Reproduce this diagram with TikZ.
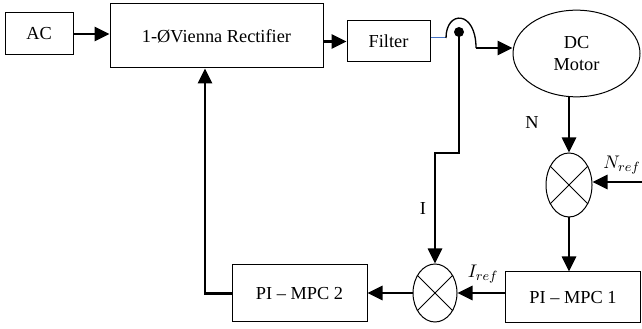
\documentclass[tikz,border=0pt]{standalone}
\usepackage{fontspec}
\setmainfont{Liberation Serif}
\usetikzlibrary{shapes.geometric, arrows.meta, calc}
\definecolor{tapblue}{RGB}{68,114,196}

\begin{document}
\begin{tikzpicture}[
    x=0.6pt, y=-0.6pt,
    >={Triangle[length=9pt,width=8.5pt]},
    font=\fontsize{11}{13}\selectfont,
    block/.style={rectangle, draw=black, line width=0.6pt, inner sep=0pt, align=center},
    summer/.style={ellipse, draw=black, line width=0.6pt, inner sep=0pt},
    signal/.style={->, line width=1.3pt},
    tag/.style={inner sep=1pt}
]
\useasboundingbox (0,0) rectangle (642,329);
\node[block, minimum width=40.8pt, minimum height=25.2pt] (ac) at (39,34) {AC};
\node[block, minimum width=127.8pt, minimum height=38.4pt] (rect) at (216.5,36) {1-ØVienna Rectifier};
\node[block, minimum width=49.8pt, minimum height=24.6pt] (filter) at (388.5,41.5) {Filter};
\node[ellipse, draw, line width=0.6pt, minimum width=76.2pt, minimum height=52pt,
      inner sep=0pt, align=center] (motor) at (576.5,53.5) {DC\\Motor};
\node[summer, minimum width=27.6pt, minimum height=38.4pt] (sumN) at (569,185) {};
\node[summer, minimum width=26.4pt, minimum height=34.8pt] (sumI) at (435,293) {};
\node[block, minimum width=81pt, minimum height=30.6pt] (mpcA) at (573,297.5) {PI – MPC 1};
\node[block, minimum width=81pt, minimum height=34.2pt] (mpcB) at (299.5,293.5) {PI – MPC 2};
\foreach \s in {sumN,sumI} {
    \draw[line width=0.6pt] (\s.45) -- (\s.225) (\s.135) -- (\s.315);
}
% crossing and feedback points
\coordinate (hopL) at (446,38);
\coordinate (hopR) at (476,48);
\coordinate (tap) at (459,32);
\coordinate (Istep) at (435,153);
\coordinate (Nin) at (642,182);
\coordinate (fb) at (205,293.5);
\draw[signal] (ac.east) -- (ac.east -| rect.west);
\draw[signal] (rect.east |- filter) -- (filter.west);
\draw[tapblue, line width=0.6pt] (filter.east |- hopL) -- (hopL);
\draw[line width=0.8pt] (hopL) .. controls (446,10) and (476,10) .. (hopR);
\draw[signal] (hopR) -- (motor.west |- hopR);
\fill (tap) circle (3pt);
\draw[signal] (tap) |- (Istep) -- (sumI.north);
\draw[signal] (sumN.north |- motor.south) -- (sumN.north);
\draw[signal] (Nin) -- (Nin -| sumN.east);
\draw[signal] (sumN.south) -- (sumN.south |- mpcA.north);
\draw[signal] (mpcA.west |- sumI) -- (sumI.east);
\draw[signal] (sumI.west) -- (mpcB.east |- sumI);
\draw[signal] (mpcB.west) -- (fb) -- (fb |- rect.south);
\node[tag] (lN) at (532,123) {N};
\node[tag] (lNref) at (622,165) {$N_{ref}$};
\node[tag] (lI) at (423,208) {I};
\node[tag] (lIref) at (483,274) {$I_{ref}$};
\end{tikzpicture}
\end{document}
